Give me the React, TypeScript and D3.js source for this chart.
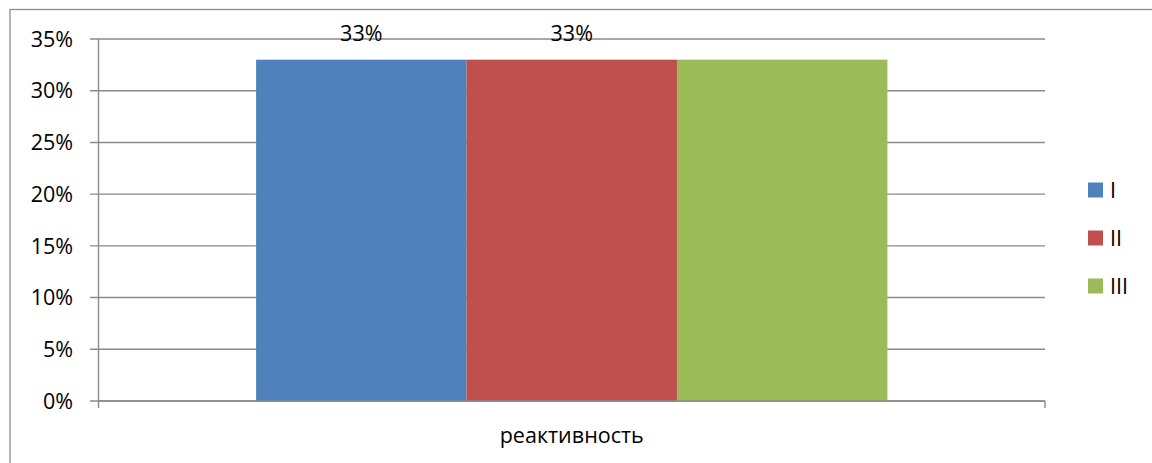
import React from "react";
import * as d3 from "d3";

const categories = ["реактивность"];
const seriesNames = ["I", "II", "III"];
const seriesValues = [0.33, 0.33, 0.33];
const dataLabels = ["33%", "33%", null];
const seriesColors = ["#4F81BD", "#C0504D", "#9BBB59"];
const yTicks = [0, 0.05, 0.1, 0.15, 0.2, 0.25, 0.3, 0.35];

const W = 1152;
const H = 463;
const FONT = "'Open Sans', 'Liberation Sans', Arial, sans-serif";
const FS = 21.5;

export default function App() {
  const left = 98.5;
  const right = 1045;
  const top = 39;
  const bottom = 401;

  const y = d3.scaleLinear().domain([0, 0.35]).range([bottom, top]);
  const x0 = d3.scaleBand().domain(categories).range([left, right]).paddingInner(0).paddingOuter(0);
  const groupPad = 0.1665;
  const x1 = d3
    .scaleBand()
    .domain(seriesNames)
    .range([x0.bandwidth() * groupPad, x0.bandwidth() * (1 - groupPad)])
    .padding(0);
  const fmt = d3.format(".0%");
  const grid = "#8a8a8a";

  return (
    <svg
      width={W}
      height={H}
      style={{ position: "absolute", left: 0, top: 0, background: "#fff" }}
      fontFamily={FONT}
    >
      <rect x={10} y={9.5} width={1160} height={470} fill="#fff" stroke="#8c8c8c" strokeWidth={1.3} />
      {yTicks.map((t) => (
        <g key={t}>
          <line x1={90} x2={right} y1={y(t)} y2={y(t)} stroke={grid} strokeWidth={1.4} />
          <text x={73} y={y(t)} dy="0.36em" textAnchor="end" fontSize={FS} fill="#000">
            {fmt(t)}
          </text>
        </g>
      ))}
      {categories.map((c) => (
        <g key={c} transform={`translate(${x0(c)},0)`}>
          {seriesNames.map((s, i) => (
            <rect
              key={s}
              x={x1(s)}
              y={y(seriesValues[i])}
              width={x1.bandwidth()}
              height={y(0) - y(seriesValues[i])}
              fill={seriesColors[i]}
            />
          ))}
          {seriesNames.map((s, i) =>
            dataLabels[i] ? (
              <text
                key={s + "l"}
                x={(x1(s) as number) + x1.bandwidth() / 2}
                y={y(seriesValues[i]) - 19}
                textAnchor="middle"
                fontSize={FS}
                fill="#000"
              >
                {dataLabels[i]}
              </text>
            ) : null
          )}
          <text
            x={x0.bandwidth() / 2}
            y={443}
            textAnchor="middle"
            fontSize={FS}
            fill="#000"
          >
            {c}
          </text>
        </g>
      ))}
      <line x1={left} x2={right} y1={bottom} y2={bottom} stroke={grid} strokeWidth={1.4} />
      <line x1={left} x2={left} y1={top} y2={408} stroke={grid} strokeWidth={1.4} />
      <line x1={right} x2={right} y1={bottom} y2={408} stroke={grid} strokeWidth={1.4} />
      {seriesNames.map((s, i) => (
        <g key={s} transform={`translate(1088,${190 + i * 48})`}>
          <rect x={0} y={-7.5} width={15} height={15} fill={seriesColors[i]} />
          <text x={22} y={0} dy="0.36em" fontSize={FS} fill="#000">
            {s}
          </text>
        </g>
      ))}
    </svg>
  );
}
